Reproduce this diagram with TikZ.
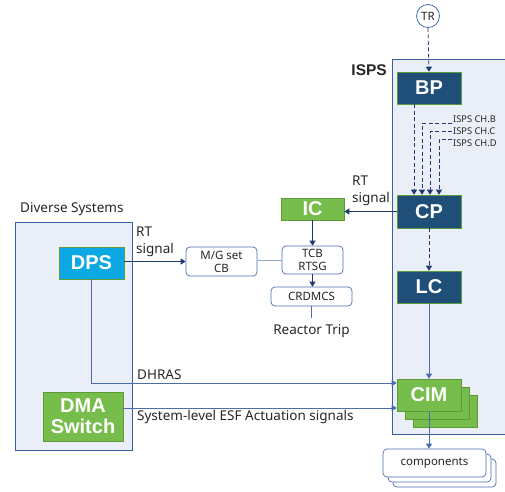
\documentclass[tikz,border=0pt]{standalone}
\usepackage{fontspec}
\setmainfont{Noto Sans}
\newfontfamily\boldfam{Liberation Sans}
\usetikzlibrary{arrows.meta,calc}
\definecolor{navy}{HTML}{1F3A6E}
\definecolor{darkblue}{HTML}{1F4E79}
\definecolor{grpfill}{HTML}{E9EEF7}
\definecolor{grpline}{HTML}{3C5DA0}
\definecolor{lgreen}{HTML}{76BD4B}
\definecolor{dgreen}{HTML}{5E9A3A}
\definecolor{cyanb}{HTML}{0CA8E4}
\definecolor{midblue}{HTML}{4A6DB0}
\definecolor{lineblue}{HTML}{8EA6D4}
\definecolor{txt}{HTML}{262626}
\tikzset{
  grpbox/.style={draw=grpline, fill=grpfill, line width=0.9pt, inner sep=0pt, anchor=north west},
  bluebox/.style={draw=dgreen, fill=darkblue, line width=0.6pt, text=white, font=\boldfam\bfseries\fontsize{20}{22}\selectfont, minimum width=64pt, minimum height=32pt, inner sep=0pt},
  greenbox/.style={draw=dgreen, fill=lgreen, line width=0.6pt, text=white, font=\boldfam\bfseries\fontsize{20}{22}\selectfont, inner sep=0pt},
  rbox/.style={draw=midblue, fill=white, rounded corners=4pt, line width=0.7pt, text=txt, font=\fontsize{11.5}{13}\selectfont, inner sep=0pt, align=center},
  lbl/.style={text=txt, font=\fontsize{13.5}{17}\selectfont, inner sep=0pt, align=left},
  small/.style={text=txt, font=\fontsize{9.3}{10}\selectfont, inner sep=0pt, anchor=west},
  arr/.style={draw=navy, line width=0.8pt, -{Triangle[width=6pt,length=5pt]}},
  dasharr/.style={arr, dash pattern=on 4pt off 2.5pt},
  plainln/.style={draw=lineblue, line width=0.8pt},
}
\begin{document}
\begin{tikzpicture}[x=1pt,y=-1pt]
\useasboundingbox (0,0) rectangle (505,491);
% group boxes
\node[grpbox, minimum width=118pt, minimum height=375pt] (isps) at (392,59) {};
\node[text=txt, inner sep=0pt, font=\boldfam\bfseries\fontsize{15.5}{17}\selectfont, anchor=east] (ispslbl) at (387,70) {ISPS};
\node[grpbox, minimum width=117pt, minimum height=228pt] (div) at (15,222) {};
\node[lbl, anchor=south west] (divlbl) at (20,216) {Diverse Systems};
% ISPS chain
\node[circle, draw=midblue, fill=white, line width=0.8pt, minimum size=23pt, inner sep=0pt, text=txt, font=\fontsize{11.5}{12}\selectfont] (tr) at (428,16) {TR};
\node[bluebox] (bp) at (429,88) {BP};
\node[bluebox, minimum height=33pt] (cp) at (429,211.5) {CP};
\node[bluebox] (lc) at (429,287) {LC};
% CIM stack
\node[greenbox, minimum width=64pt, minimum height=32pt] (cim3) at (445,411) {};
\node[greenbox, minimum width=64pt, minimum height=32pt] (cim2) at (437,403) {};
\node[greenbox, minimum width=64pt, minimum height=32pt] (cim) at (429,395) {CIM};
% components stack
\node[rbox, minimum width=103pt, minimum height=28pt] (comp3) at (444.5,473) {};
\node[rbox, minimum width=103pt, minimum height=28pt] (comp2) at (439.5,468) {};
\node[rbox, minimum width=103pt, minimum height=28pt] (comp) at (434.5,463) {components};
% middle
\node[greenbox, minimum width=63pt, minimum height=22pt] (ic) at (312.5,209) {IC};
\node[rbox, minimum width=61pt, minimum height=28pt] (tcb) at (312.5,260) {TCB\\RTSG};
\node[rbox, minimum width=81pt, minimum height=19pt] (crd) at (311.5,296.5) {CRDMCS};
\node[lbl] (rtrip) at (311.5,331) {Reactor Trip};
\node[rbox, minimum width=71pt, minimum height=29pt] (mg) at (221.5,261.5) {M/G set\\CB};
% diverse
\node[bluebox, fill=cyanb, minimum width=65pt, minimum height=32pt] (dps) at (91.5,263) {DPS};
\node[greenbox, minimum width=80pt, minimum height=49pt, align=center, font=\boldfam\bfseries\fontsize{20}{21}\selectfont] (dma) at (83,416.5) {DMA\\Switch};
% channel labels
\node[small] (chb) at (453,119) {ISPS CH.B};
\node[small] (chc) at (453,131) {ISPS CH.C};
\node[small] (chd) at (453,143) {ISPS CH.D};
\coordinate (chbe) at (452,123);
\coordinate (chce) at (452,131);
\coordinate (chde) at (452,139);
% connectors
\draw[dasharr] (tr.south) -- (bp.north);
\draw[dasharr] ([xshift=-15pt]bp.south) -- ([xshift=-15pt]cp.north);
\draw[dasharr] (chbe) -| ([xshift=-7pt]cp.north);
\draw[dasharr] (chce) -| ([xshift=1pt]cp.north);
\draw[dasharr] (chde) -| ([xshift=10pt]cp.north);
\draw[dasharr] (cp.south) -- (lc.north);
\draw[arr, draw=midblue] (lc.south) -- (cim.north);
\draw[arr] (cp.west) -- (cp.west -| ic.east);
\node[lbl, anchor=south west] (rtl1) at (352,206) {RT\\signal};
\draw[arr] (ic.south) -- (tcb.north);
\draw[arr] (tcb.south) -- (tcb.south |- crd.north);
\draw[plainln, draw=midblue] (crd.south) -- ([yshift=-12pt]crd.south);
\draw[plainln] (mg.east |- tcb.west) -- (tcb.west);
\draw[arr] (dps.east |- mg.west) -- (mg.west);
\node[lbl, anchor=south west] (rtl2) at (136,257) {RT\\signal};
\draw[arr, draw=midblue] (dps.south) |- ([yshift=12pt]cim.west);
\node[lbl, anchor=south west] (dhras) at (137,380) {DHRAS};
\draw[arr, draw=midblue] ([yshift=8.5pt]dma.east) -- ([yshift=-13pt]cim.west);
\node[lbl, anchor=north west] (esf) at (137,410) {System-level ESF Actuation signals};
\draw[arr, draw=midblue] (cim.south) -- (cim.south |- comp.north);
\end{tikzpicture}
\end{document}
